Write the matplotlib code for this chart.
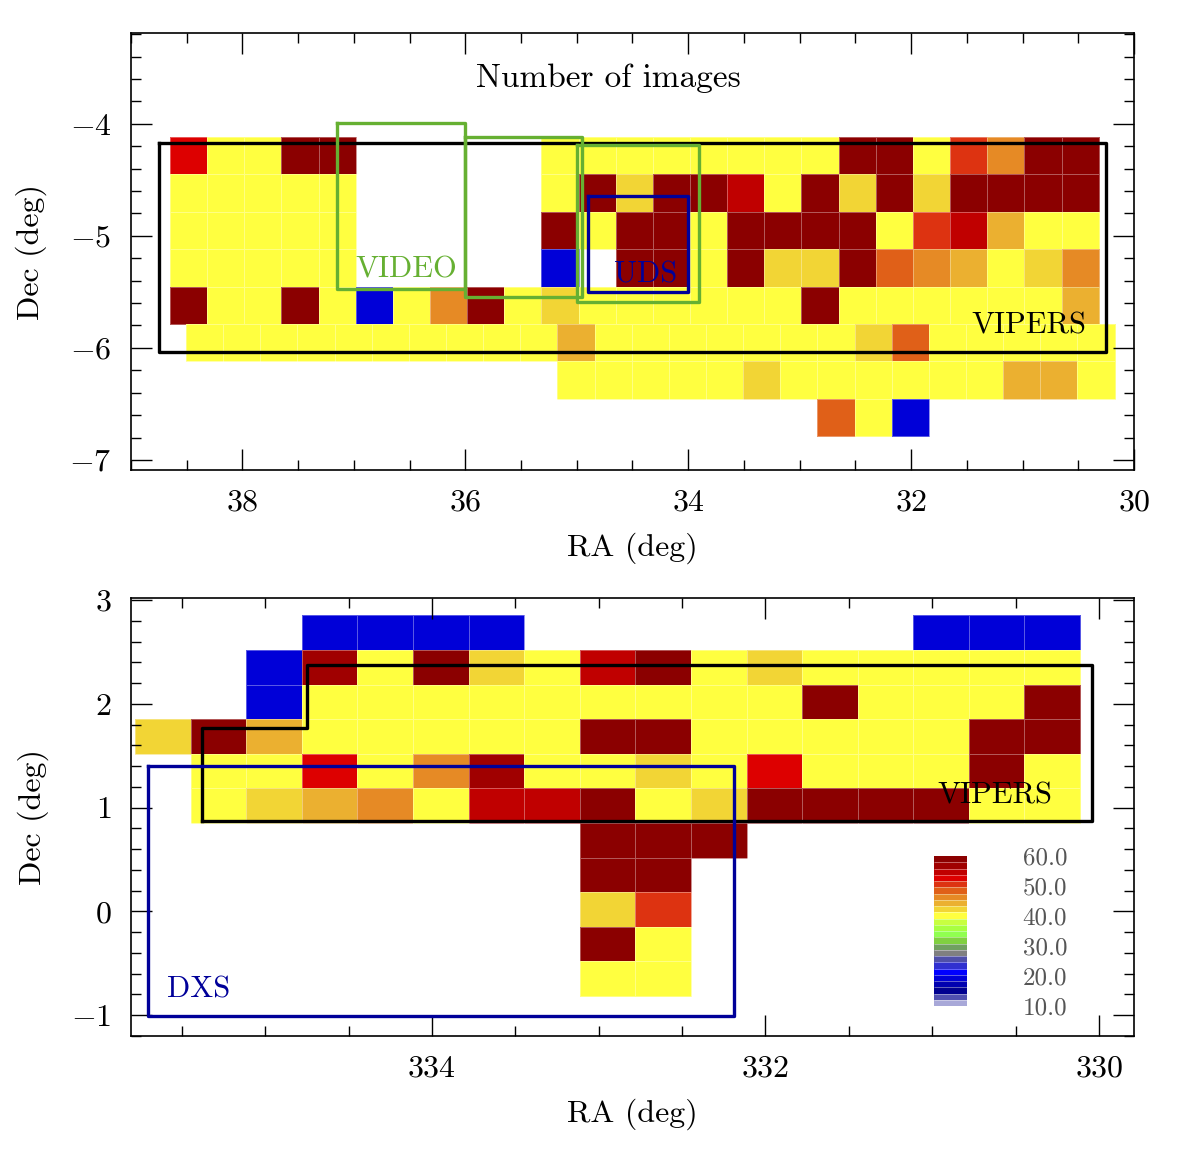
import matplotlib
matplotlib.use('Agg')
import matplotlib.pyplot as plt
import numpy as np
from matplotlib.cm import ScalarMappable
from matplotlib.colors import BoundaryNorm, ListedColormap
from matplotlib.ticker import FormatStrFormatter, MultipleLocator

N = np.nan

# colour scale for the number of images, bottom (10) to top (60)
level_colors = [
    '#a8a8d8', '#5050b0', '#000090', '#0000b0', '#0000d8', '#0000ff',
    '#3030d0', '#5050a8', '#808080', '#70a060', '#80d040', '#90ff50',
    '#a8ff40', '#c8ff40', '#ffff40', '#f2d535', '#ebb030', '#e68a25',
    '#e06018', '#dd3311', '#dd0000', '#c00000', '#a00000', '#8b0000',
]
level_range = (10.0, 60.0)
colorbar_ticks = [10, 20, 30, 40, 50, 60]

tile = 1.0 / 3.0

# XMM field, upper block of tiles (rows from Dec -4.12 downwards, columns from RA 38.65)
xmm_upper_origin = (38.65, -4.119)
xmm_upper = [
    [53, 41, 41, 59, 59, N, N, N, N, N, 41, 41, 41, 41, 41, 41, 41, 41, 59, 59, 41, 51, 47, 59, 59],
    [41, 41, 41, 41, 41, N, N, N, N, N, 41, 59, 43, 59, 59, 55, 41, 59, 43, 59, 43, 59, 59, 59, 59],
    [41, 41, 41, 41, 41, N, N, N, N, N, 59, 41, 59, 59, 41, 59, 59, 59, 59, 41, 51, 55, 45, 41, 41],
    [41, 41, 41, 41, 41, N, N, N, N, N, 19, N, 59, 59, 41, 59, 43, 43, 59, 49, 47, 45, 41, 43, 47],
    [59, 41, 41, 59, 41, 19, 41, 47, 59, 41, 43, 41, 41, 41, 41, 41, 41, 59, 41, 41, 41, 41, 41, 41, 45],
]

# XMM field, lower block (shifted grid, rows from Dec -5.79 downwards, columns from RA 38.51)
xmm_lower_origin = (38.507, -5.786)
xmm_lower = [
    [41, 41, 41, 41, 41, 41, 41, 41, 41, 41, 45, 41, 41, 41, 41, 41, 41, 41, 43, 49, 41, 41, 41, 41, 41],
    [N, N, N, N, N, N, N, N, N, N, 41, 41, 41, 41, 41, 43, 41, 41, 41, 41, 41, 41, 45, 45, 41],
    [N, N, N, N, N, N, N, N, N, N, N, N, N, N, N, N, N, 49, 41, 19, N, N, N, N, N],
]

# 22h field (rows from Dec 2.85 downwards, columns from RA 335.78)
w4_origin = (335.78, 2.853)
w4_counts = [
    [N, N, N, 19, 19, 19, 19, N, N, N, N, N, N, N, 19, 19, 19],
    [N, N, 19, 57, 41, 59, 43, 41, 55, 59, 41, 43, 41, 41, 41, 41, 41],
    [N, N, 19, 41, 41, 41, 41, 41, 41, 41, 41, 41, 59, 41, 41, 41, 59],
    [43, 59, 45, 41, 41, 41, 41, 41, 59, 59, 41, 41, 41, 41, 41, 59, 59],
    [N, 41, 41, 53, 41, 47, 57, 41, 41, 43, 41, 53, 41, 41, 41, 59, 41],
    [N, 41, 43, 45, 47, 41, 55, 55, 59, 41, 43, 59, 59, 59, 59, 41, 41],
    [N, N, N, N, N, N, N, N, 59, 59, 59, N, N, N, N, N, N],
    [N, N, N, N, N, N, N, N, 59, 59, N, N, N, N, N, N, N],
    [N, N, N, N, N, N, N, N, 43, 51, N, N, N, N, N, N, N],
    [N, N, N, N, N, N, N, N, 59, 41, N, N, N, N, N, N, N],
    [N, N, N, N, N, N, N, N, 41, 41, N, N, N, N, N, N, N],
]

# survey outlines: (RA left, RA right, Dec top, Dec bottom)
video_boxes = [(37.15, 36.0, -3.99, -5.47), (36.0, 34.95, -4.12, -5.55), (35.0, 33.9, -4.19, -5.59)]
uds_box = (34.9, 34.0, -4.64, -5.50)
vipers_xmm_box = (38.75, 30.25, -4.17, -6.04)
dxs_box = (335.70, 332.19, 1.40, -1.01)
vipers_w4_ra = [335.38, 335.38, 334.75, 334.75, 330.04, 330.04, 335.38]
vipers_w4_dec = [0.87, 1.77, 1.77, 2.37, 2.37, 0.87, 0.87]

VIDEO_GREEN = '#66b032'
NAVY = '#000099'

plt.rcParams['font.family'] = ['cmr10', 'DejaVu Serif']
plt.rcParams['mathtext.fontset'] = 'cm'
plt.rcParams['axes.formatter.use_mathtext'] = True
plt.rcParams['axes.unicode_minus'] = True


def draw_tiles(axis, origin, counts, cmap, norm):
    values = np.ma.masked_invalid(np.array(counts, dtype=float))
    n_rows, n_cols = values.shape
    ra_edges = origin[0] - np.arange(n_cols + 1) * tile
    dec_edges = origin[1] - np.arange(n_rows + 1) * tile
    axis.pcolormesh(ra_edges, dec_edges, values, cmap=cmap, norm=norm,
                    edgecolors=(1, 1, 1, 0.35), linewidth=0.5, zorder=1)


def draw_box(axis, box, color):
    ra_left, ra_right, dec_top, dec_bottom = box
    axis.plot([ra_left, ra_right, ra_right, ra_left, ra_left],
              [dec_top, dec_top, dec_bottom, dec_bottom, dec_top],
              color=color, linewidth=2.4, zorder=3)


def style_axis(axis):
    axis.xaxis.set_major_locator(MultipleLocator(2))
    axis.xaxis.set_minor_locator(MultipleLocator(0.5))
    axis.yaxis.set_major_locator(MultipleLocator(1))
    axis.yaxis.set_minor_locator(MultipleLocator(0.2))
    axis.tick_params(which='both', direction='in', top=True, right=True, width=1.0, labelsize=23)
    axis.tick_params(which='major', length=15, pad=14)
    axis.tick_params(which='minor', length=7.5)
    for spine in axis.spines.values():
        spine.set_linewidth(1.2)
    axis.set_xlabel('RA (deg)', fontsize=23, labelpad=11)
    axis.set_ylabel('Dec (deg)', fontsize=23, labelpad=16)


cmap = ListedColormap(level_colors)
boundaries = np.linspace(level_range[0], level_range[1], len(level_colors) + 1)
norm = BoundaryNorm(boundaries, cmap.N)

figure = plt.figure(figsize=(11.93, 11.52), dpi=100)
top = figure.add_axes([0.1098, 0.592, 0.8407, 0.3793])
bottom = figure.add_axes([0.1098, 0.1007, 0.8407, 0.3802])

# XMM panel
draw_tiles(top, xmm_upper_origin, xmm_upper, cmap, norm)
draw_tiles(top, xmm_lower_origin, xmm_lower, cmap, norm)
draw_box(top, vipers_xmm_box, 'black')
for box in video_boxes:
    draw_box(top, box, VIDEO_GREEN)
draw_box(top, uds_box, NAVY)
top.text(34.72, -3.59, 'Number of images', fontsize=24, ha='center', va='center')
top.text(36.99, -5.30, 'VIDEO', color=VIDEO_GREEN, fontsize=22, ha='left', va='center', zorder=4)
top.text(34.67, -5.35, 'UDS', color=NAVY, fontsize=22, ha='left', va='center', zorder=4)
top.text(30.43, -5.80, 'VIPERS', color='black', fontsize=22, ha='right', va='center', zorder=4)
top.set_xlim(39.0, 30.0)
top.set_ylim(-7.09, -3.19)
style_axis(top)

# 22h panel
draw_tiles(bottom, w4_origin, w4_counts, cmap, norm)
bottom.plot(vipers_w4_ra, vipers_w4_dec, color='black', linewidth=2.4, zorder=3)
draw_box(bottom, dxs_box, NAVY)
bottom.text(330.28, 1.11, 'VIPERS', color='black', fontsize=22, ha='right', va='center', zorder=4)
bottom.text(335.59, -0.75, 'DXS', color=NAVY, fontsize=22, ha='left', va='center', zorder=4)
bottom.set_xlim(335.805, 329.79)
bottom.set_ylim(-1.2, 3.02)
style_axis(bottom)

# colour key
color_axis = figure.add_axes([0.7829, 0.1267, 0.0277, 0.1302])
colorbar = figure.colorbar(ScalarMappable(norm=norm, cmap=cmap), cax=color_axis,
                           ticks=colorbar_ticks, drawedges=True)
colorbar.outline.set_visible(False)
colorbar.dividers.set_color((1, 1, 1, 0.45))
colorbar.dividers.set_linewidth(0.6)
colorbar.ax.yaxis.set_major_formatter(FormatStrFormatter('%.1f'))
colorbar.ax.tick_params(length=0, pad=40, labelsize=18, labelcolor='#555555')
colorbar.ax.minorticks_off()

plt.savefig('out.png', dpi=100)
plt.close(figure)
